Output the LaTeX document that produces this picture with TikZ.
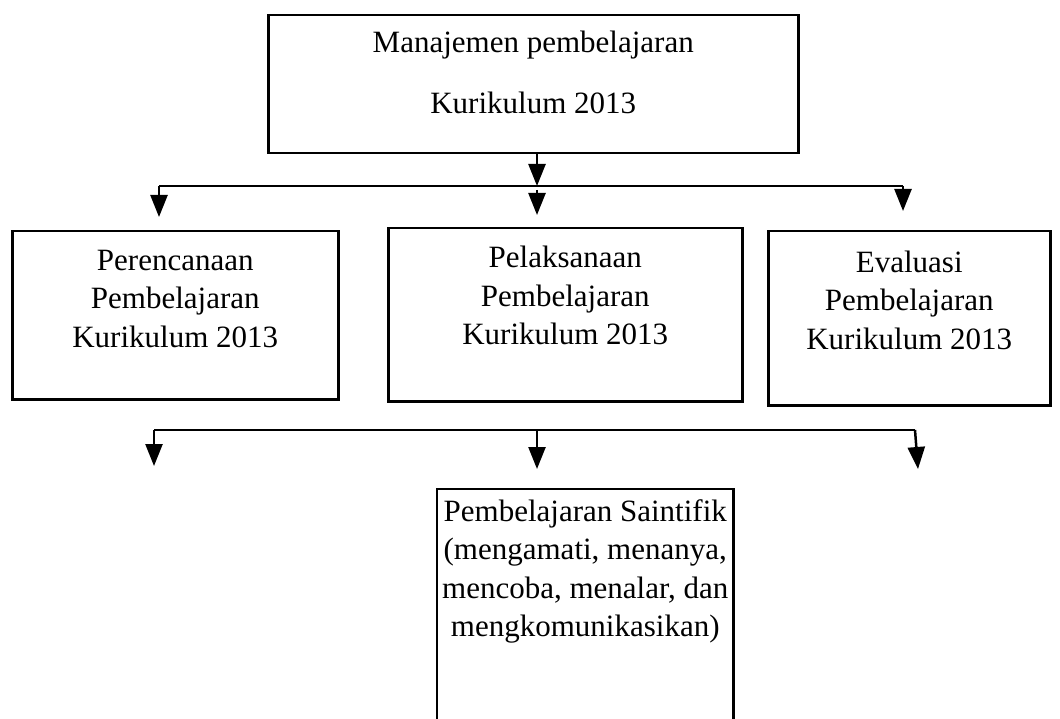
\documentclass[tikz,border=0pt]{standalone}
\usepackage{fontspec}
\setmainfont{Liberation Serif}
\usetikzlibrary{arrows.meta}

\begin{document}
\begin{tikzpicture}[x=1pt, y=-1pt,
    box/.style = {shape=rectangle, draw, line width=2.5pt, align=center,
      anchor=north west, inner sep=0pt, font=\fontsize{31}{38.5}\selectfont},
    link/.style = {line width=2.5pt},
    arrow/.style = {link, -{Triangle[length=22pt, width=17pt]}}]
  \useasboundingbox (0,0) rectangle (1060,719);

  \node[box, minimum width=530, minimum height=138, text depth=25pt,
    font=\fontsize{31}{61}\selectfont] (manage) at (267,14)
    {Manajemen pembelajaran\\Kurikulum 2013};

  \node[box, minimum width=326, minimum height=168, text depth=33pt] (plan) at (11,230)
    {Perencanaan\\Pembelajaran\\Kurikulum 2013};
  \node[box, minimum width=354, minimum height=173, text depth=39pt] (exec) at (387,227)
    {Pelaksanaan\\Pembelajaran\\Kurikulum 2013};
  \node[box, minimum width=282, minimum height=174, text depth=37pt] (eval) at (767,230)
    {Evaluasi\\Pembelajaran\\Kurikulum 2013};

  \node[box, draw=none, minimum width=294, minimum height=162] (science) at (437,489)
    {Pembelajaran Saintifik\\(mengamati, menanya,\\mencoba, menalar, dan\\mengkomunikasikan)};
  \draw[link] ([yshift=-80pt]science.south west) -- (science.north west)
    -- (science.north east) -- ([yshift=-80pt]science.south east);

  % first level
  \coordinate (busA left) at (159,186);
  \coordinate (busA right) at (903,186);
  \coordinate (busA mid) at (537,186);
  \draw[link] (busA left) -- (busA right);
  \draw[arrow] (manage.south -| busA mid) -- (busA mid);
  \draw[arrow] (busA left) -- ++(0,31);
  \draw[arrow] ([yshift=-4pt]busA mid) -- ++(0,25);
  \draw[arrow] (busA right) -- ++(0,25);

  % second level
  \coordinate (busB left) at (154,430);
  \coordinate (busB right) at (915,430);
  \coordinate (busB mid) at (537,430);
  \draw[link] (busB left) -- (busB right);
  \draw[arrow] (busB left) -- ++(0,36);
  \draw[arrow] (busB mid) -- ++(0,39);
  \draw[arrow] (busB right) -- ++(3,39);
\end{tikzpicture}
\end{document}
